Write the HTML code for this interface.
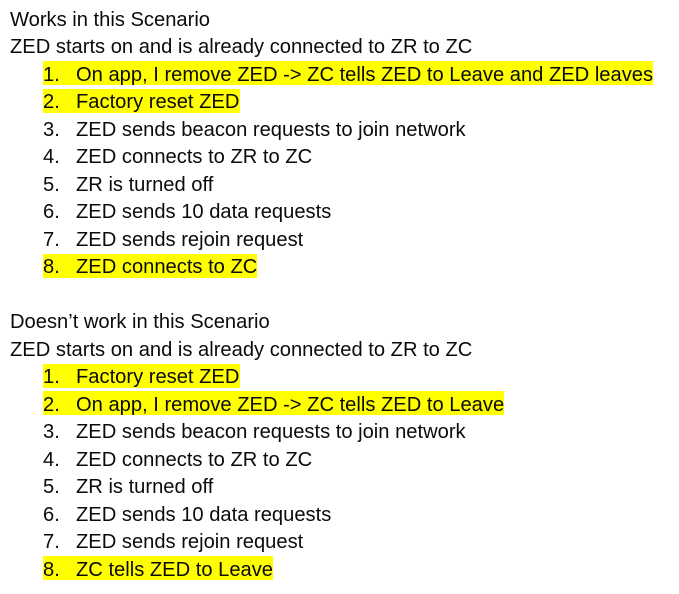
<!DOCTYPE html>
<html>
<head>
<meta charset="utf-8">
<style>
html,body{margin:0;padding:0;background:#fff;}
body{width:679px;height:594px;position:relative;overflow:hidden;font-family:"Liberation Sans",Arial,sans-serif;font-size:20.15px;color:#0b0b0b;}
.l{position:absolute;white-space:pre;line-height:24px;height:24px;}
.n{position:absolute;white-space:pre;line-height:24px;height:24px;left:43px;}
.t{position:absolute;white-space:pre;line-height:24px;height:24px;left:76px;}
.h{position:absolute;background:#ffff00;height:24px;left:43px;}
</style>
</head>
<body>
<div class="l" style="left:10px;top:8px">Works in this Scenario</div>
<div class="l" style="left:10px;top:35px">ZED starts on and is already connected to ZR to ZC</div>

<div class="h" style="top:61px;width:610px"></div>
<div class="h" style="top:89px;width:197px"></div>
<div class="h" style="top:254px;width:214px"></div>

<div class="n" style="top:63px">1.</div><div class="t" style="top:63px">On app, I remove ZED -&gt; ZC tells ZED to Leave and ZED leaves</div>
<div class="n" style="top:90px">2.</div><div class="t" style="top:90px">Factory reset ZED</div>
<div class="n" style="top:118px">3.</div><div class="t" style="top:118px">ZED sends beacon requests to join network</div>
<div class="n" style="top:145px">4.</div><div class="t" style="top:145px">ZED connects to ZR to ZC</div>
<div class="n" style="top:173px">5.</div><div class="t" style="top:173px">ZR is turned off</div>
<div class="n" style="top:200px">6.</div><div class="t" style="top:200px">ZED sends 10 data requests</div>
<div class="n" style="top:228px">7.</div><div class="t" style="top:228px">ZED sends rejoin request</div>
<div class="n" style="top:255px">8.</div><div class="t" style="top:255px">ZED connects to ZC</div>

<div class="l" style="left:10px;top:310px">Doesn’t work in this Scenario</div>
<div class="l" style="left:10px;top:338px">ZED starts on and is already connected to ZR to ZC</div>

<div class="h" style="top:364px;width:197px"></div>
<div class="h" style="top:391px;width:461px"></div>
<div class="h" style="top:556px;width:230px"></div>

<div class="n" style="top:365px">1.</div><div class="t" style="top:365px">Factory reset ZED</div>
<div class="n" style="top:393px">2.</div><div class="t" style="top:393px">On app, I remove ZED -&gt; ZC tells ZED to Leave</div>
<div class="n" style="top:420px">3.</div><div class="t" style="top:420px">ZED sends beacon requests to join network</div>
<div class="n" style="top:448px">4.</div><div class="t" style="top:448px">ZED connects to ZR to ZC</div>
<div class="n" style="top:475px">5.</div><div class="t" style="top:475px">ZR is turned off</div>
<div class="n" style="top:503px">6.</div><div class="t" style="top:503px">ZED sends 10 data requests</div>
<div class="n" style="top:530px">7.</div><div class="t" style="top:530px">ZED sends rejoin request</div>
<div class="n" style="top:558px">8.</div><div class="t" style="top:558px">ZC tells ZED to Leave</div>
</body>
</html>
